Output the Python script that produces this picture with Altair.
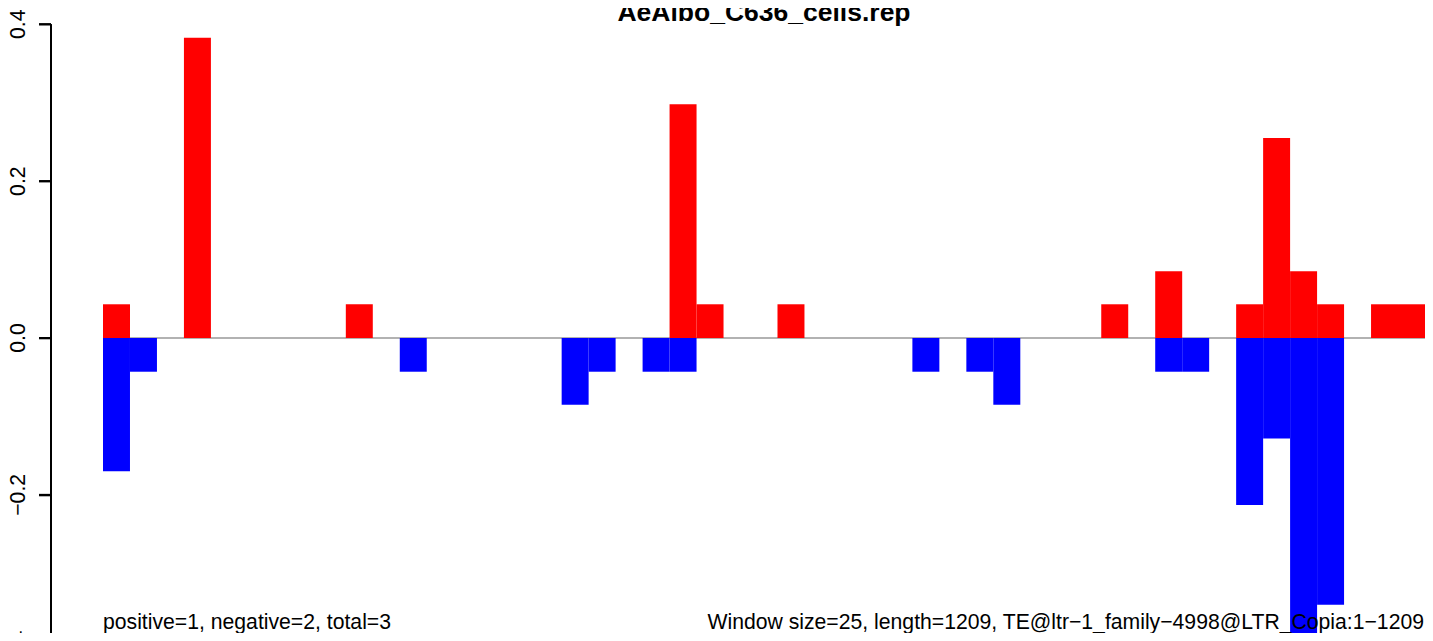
import altair as alt
import pandas as pd

# ---- data (49 windows of 25 bp) ----
bins = list(range(49))
pos_values = [0.043, 0, 0, 0.383, 0, 0, 0, 0, 0, 0.043,
              0, 0, 0, 0, 0, 0, 0, 0, 0, 0,
              0, 0.298, 0.043, 0, 0, 0.043, 0, 0, 0, 0,
              0, 0, 0, 0, 0, 0, 0, 0.043, 0, 0.085,
              0, 0, 0.043, 0.255, 0.085, 0.043, 0, 0.043, 0.043]
neg_values = [-0.170, -0.043, 0, 0, 0, 0, 0, 0, 0, 0,
              0, -0.043, 0, 0, 0, 0, 0, -0.085, -0.043, 0,
              -0.043, -0.043, 0, 0, 0, 0, 0, 0, 0, 0,
              -0.043, 0, -0.043, -0.085, 0, 0, 0, 0, 0, -0.043,
              -0.043, 0, -0.213, -0.128, -0.383, -0.340, 0, 0, 0]
y_ticks = [-0.4, -0.2, 0.0, 0.2, 0.4]
n_bins = 49

title_text = "AeAlbo_C636_cells.rep"
left_note = "positive=1, negative=2, total=3"
right_note = "Window size=25, length=1209, TE@ltr\u22121_family\u22124998@LTR_Copia:1\u22121209"

rows = []
for b, p, n in zip(bins, pos_values, neg_values):
    if p:
        rows.append({"start": b, "end": b + 1, "value": p, "base": 0.0, "sign": "positive"})
    if n:
        rows.append({"start": b, "end": b + 1, "value": n, "base": 0.0, "sign": "negative"})
df = pd.DataFrame(rows)

FONT = "Liberation Sans"
INK = "#000000"
W = 1322
H = 608.7
YRANGE = 627.4
AXIS_OFFSET = 52
TICK = 12

x_scale = alt.Scale(domain=[0, n_bins], range=[0, W], nice=False, zero=False)
y_scale = alt.Scale(domain=[-0.4, 0.4], range=[YRANGE, 0], nice=False, zero=False)

y_axis = alt.Axis(
    values=y_ticks, format=".1f", title=None, grid=False, offset=AXIS_OFFSET,
    domain=True, ticks=True, zindex=2, translate=0,
    tickSize=TICK, tickColor=INK, tickWidth=2, tickOpacity=1,
    domainColor=INK, domainWidth=2, domainOpacity=1,
    labelAngle=270, labelAlign="center", labelBaseline="alphabetic",
    labelPadding=14.5, labelFont=FONT, labelFontSize=21.2, labelColor="black",
    labelOverlap=False, labelBound=False, labelFlush=False)

zero_df = pd.DataFrame({"start": [0], "end": [n_bins], "value": [0.0]})
zero = alt.Chart(zero_df).mark_rule(color="#999999", strokeWidth=1.5).encode(
    x=alt.X("start:Q", scale=x_scale, axis=None),
    x2="end:Q",
    y=alt.Y("value:Q", scale=y_scale, axis=y_axis),
)

bars = alt.Chart(df).mark_rect(strokeWidth=0).encode(
    x=alt.X("start:Q", scale=x_scale, axis=None),
    x2="end:Q",
    y=alt.Y("value:Q", scale=y_scale, axis=y_axis),
    y2="base:Q",
    color=alt.Color("sign:N", scale=alt.Scale(domain=["positive", "negative"],
                                              range=["#ff0000", "#0000ff"]), legend=None),
)

# detached R-style axis line and ticks, drawn through the y scale
axis_line_df = pd.DataFrame({"value": [max(y_ticks)], "value2": [min(y_ticks)]})
axis_line = alt.Chart(axis_line_df).mark_rule(color=INK, strokeWidth=2, opacity=1).encode(
    x=alt.value(-AXIS_OFFSET),
    y=alt.Y("value:Q", scale=y_scale, axis=y_axis),
    y2="value2:Q",
)
ticks_df = pd.DataFrame({"value": y_ticks})
tick_marks = alt.Chart(ticks_df).mark_rule(color=INK, strokeWidth=2, opacity=1).encode(
    x=alt.value(-AXIS_OFFSET - TICK),
    x2=alt.value(-AXIS_OFFSET),
    y=alt.Y("value:Q", scale=y_scale, axis=y_axis),
)

title_df = pd.DataFrame({"label": [title_text]})
title = alt.Chart(title_df).mark_text(
    font=FONT, fontSize=26.5, fontWeight="bold", align="center", baseline="alphabetic", color="black"
).encode(x=alt.value(W / 2), y=alt.value(-3.3), text="label:N")

left_df = pd.DataFrame({"label": [left_note]})
left = alt.Chart(left_df).mark_text(
    font=FONT, fontSize=21.2, align="left", baseline="alphabetic", color="black"
).encode(x=alt.value(0), y=alt.value(604.7), text="label:N")

right_df = pd.DataFrame({"label": [right_note]})
right = alt.Chart(right_df).mark_text(
    font=FONT, fontSize=21.2, align="right", baseline="alphabetic", color="black"
).encode(x=alt.value(W - 1), y=alt.value(604.7), text="label:N")

chart = alt.layer(zero, bars, axis_line, tick_marks, title, left, right).properties(
    width=W, height=H,
    autosize=alt.AutoSizeParams(type="none"),
    padding={"left": 95, "top": 16.3, "right": 0, "bottom": 0},
    background="white",
).configure_view(stroke=None)

chart.save("out.html", embed_options={"renderer": "svg", "actions": False})
